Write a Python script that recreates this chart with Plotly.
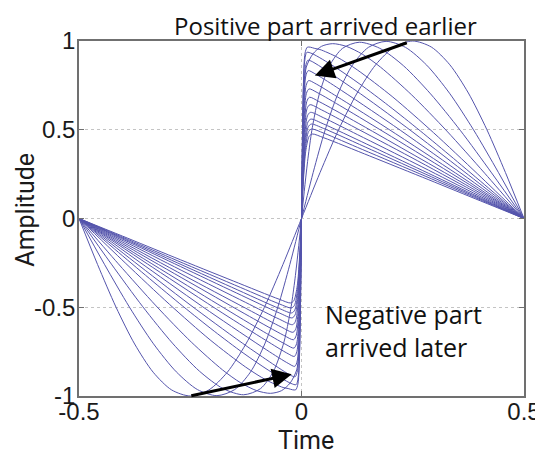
import plotly.graph_objects as go

# ---- data (positive half, t >= 0); the chart is odd-symmetric ----
t_c00 = [0, .0417, .0833, .125, .1667, .2083, .25, .2917, .3333, .375, .4167, .4583, .5]
a_c00 = [0, .259, .5, .707, .866, .966, 1, .966, .866, .707, .5, .259, 0]

t_c01 = [0, .0262, .0533, .0826, .1147, .1503, .19, .2337, .2813, .3326, .3867, .4428, .5]
a_c01 = [0, .259, .5, .707, .865, .964, .998, .964, .864, .706, .499, .258, 0]

t_c02 = [0, .007, .0146, .0233, .034, .0401, .0628, .0924, .13, .1758, .2294, .2901, .3567, .4272, .5]
a_c02 = [0, .172, .34, .497, .638, .702, .86, .959, .993, .959, .86, .702, .497, .257, 0]

t_c03 = [0, .002, .004, .007, .0108, .0253, .0449, .07, .1005, .1365, .1774, .2477, .3267, .4117, .5]
a_c03 = [0, .36, .61, .78, .853, .926, .97, .985, .97, .926, .853, .696, .4925, .255, 0]

t_c04 = [0, .002, .004, .008, .013, .02, .03, .0414, .0801, .1255, .2053, .2967, .3962, .5]
a_c04 = [0, .446, .735, .932, .965, .965, .958, .952, .909, .837, .684, .4835, .25, 0]

t_c05 = [0, .002, .004, .007, .012, .0237, .0735, .1313, .1961, .2667, .3418, .4201, .5]
a_c05 = [0, .423, .706, .884, .936, .929, .856, .757, .635, .494, .338, .172, 0]

t_c06 = [0, .0025, .005, .009, .014, .0215, .1204, .2367, .3651, .5]
a_c06 = [0, .422, .694, .856, .891, .887, .724, .512, .265, 0]

t_c07 = [0, .0027, .0054, .0097, .015, .03, .078, .2067, .3496, .5]
a_c07 = [0, .397, .652, .803, .833, .816, .741, .524, .271, 0]

t_c08 = [0, .0029, .0058, .0104, .016, .03, .0804, .1767, .3341, .5]
a_c08 = [0, .371, .609, .75, .777, .762, .686, .534, .276, 0]

t_c09 = [0, .0031, .0062, .011, .017, .035, .0931, .2024, .3544, .5]
a_c09 = [0, .35, .573, .705, .73, .71, .626, .461, .227, 0]

t_c10 = [0, .0033, .0066, .012, .018, .04, .1167, .2392, .368, .5]
a_c10 = [0, .328, .537, .66, .683, .658, .552, .377, .192, 0]

t_c11 = [0, .0035, .007, .0126, .019, .045, .1123, .2461, .3859, .5]
a_c11 = [0, .308, .505, .62, .641, .612, .523, .345, .155, 0]

t_c12 = [0, .0037, .0075, .0135, .02, .05, .1263, .2572, .3776, .5]
a_c12 = [0, .288, .472, .579, .598, .567, .472, .308, .155, 0]

t_c13 = [0, .004, .008, .0144, .021, .05, .1467, .2724, .3855, .5]
a_c13 = [0, .271, .443, .543, .56, .532, .419, .27, .136, 0]

t_c14 = [0, .0042, .0085, .0153, .022, .05, .1571, .2921, .3955, .5]
a_c14 = [0, .258, .422, .517, .532, .507, .387, .235, .118, 0]

t_c15 = [0, .0045, .009, .016, .023, .05, .1366, .2796, .3892, .5]
a_c15 = [0, .245, .40, .49, .504, .481, .389, .237, .119, 0]

t_c16 = [0, .0047, .0095, .017, .024, .05, .1534, .2862, .4024, .5]
a_c16 = [0, .231, .378, .462, .476, .455, .352, .218, .099, 0]

x_tick_vals = [-0.5, 0, 0.5]
x_tick_text = ["-0.5", "0", "0.5"]
y_tick_vals = [-1, -0.5, 0, 0.5, 1]
y_tick_text = ["-1", "-0.5", "0", "0.5", "1"]

curves = [
    (t_c00, a_c00), (t_c01, a_c01), (t_c02, a_c02), (t_c03, a_c03), (t_c04, a_c04),
    (t_c05, a_c05), (t_c06, a_c06), (t_c07, a_c07), (t_c08, a_c08), (t_c09, a_c09),
    (t_c10, a_c10), (t_c11, a_c11), (t_c12, a_c12), (t_c13, a_c13), (t_c14, a_c14),
    (t_c15, a_c15), (t_c16, a_c16),
]

LINE_COLOR = "rgb(84,84,172)"

fig = go.Figure()
for t_half, a_half in curves:
    xs = [-v for v in reversed(t_half[1:])] + list(t_half)
    ys = [-v for v in reversed(a_half[1:])] + list(a_half)
    fig.add_trace(go.Scatter(
        x=xs, y=ys, mode="lines",
        line=dict(color=LINE_COLOR, width=1, shape="spline", smoothing=0.8),
        hoverinfo="skip", showlegend=False,
    ))

axis_common = dict(
    showgrid=True, griddash="dot", gridcolor="#c4c4c4", gridwidth=1,
    showline=True, mirror="ticks", linecolor="#707070", linewidth=1.5,
    ticks="inside", ticklen=5, tickcolor="#707070",
    tickfont=dict(family="Liberation Sans, Arial, sans-serif", size=24, color="#1a1a1a"),
    zeroline=False, tickmode="array", automargin=False,
)

# the page body adds an 8 px offset, so the figure is 8 px smaller than the window
fig.update_layout(
    width=535, height=453,
    margin=dict(l=71, r=19, t=33, b=65),
    plot_bgcolor="white", paper_bgcolor="white",
    showlegend=False,
    xaxis=dict(range=[-0.5, 0.5], tickvals=x_tick_vals, ticktext=x_tick_text,
               ticklabelstandoff=-7, **axis_common),
    yaxis=dict(range=[-1, 1], tickvals=y_tick_vals, ticktext=y_tick_text,
               ticklabelstandoff=-3, **axis_common),
)

title_font = dict(family="Roboto", size=25, color="#1a1a1a")
# axis titles
fig.add_annotation(text="Time", xref="paper", yref="paper", x=0.51, y=-0.125,
                   xanchor="center", yanchor="middle", showarrow=False, font=title_font)
fig.add_annotation(text="Amplitude", xref="paper", yref="paper", x=-0.119, y=0.525,
                   xanchor="center", yanchor="middle", textangle=-90, showarrow=False, font=title_font)

text_font = dict(family="Open Sans", size=24, color="#111111")
fig.add_annotation(text="Positive part arrived earlier", xref="paper", yref="paper",
                   x=0.553, y=1.045, xanchor="center", yanchor="middle",
                   showarrow=False, font=text_font)
fig.add_annotation(text="Negative part<br>arrived later", xref="x", yref="y", x=0.048, y=-0.633,
                   xanchor="left", yanchor="middle", align="left", showarrow=False,
                   font=dict(family="Open Sans", size=25, color="#111111"))

arrow_style = dict(showarrow=True, text="", arrowhead=2, arrowsize=1.3, arrowwidth=3,
                   arrowcolor="black", axref="x", ayref="y", xref="x", yref="y", standoff=0)
fig.add_annotation(x=0.03, y=0.805, ax=0.24, ay=0.993, **arrow_style)
fig.add_annotation(x=-0.022, y=-0.878, ax=-0.251, ay=-1.0, **arrow_style)

fig.write_html("out.html")
